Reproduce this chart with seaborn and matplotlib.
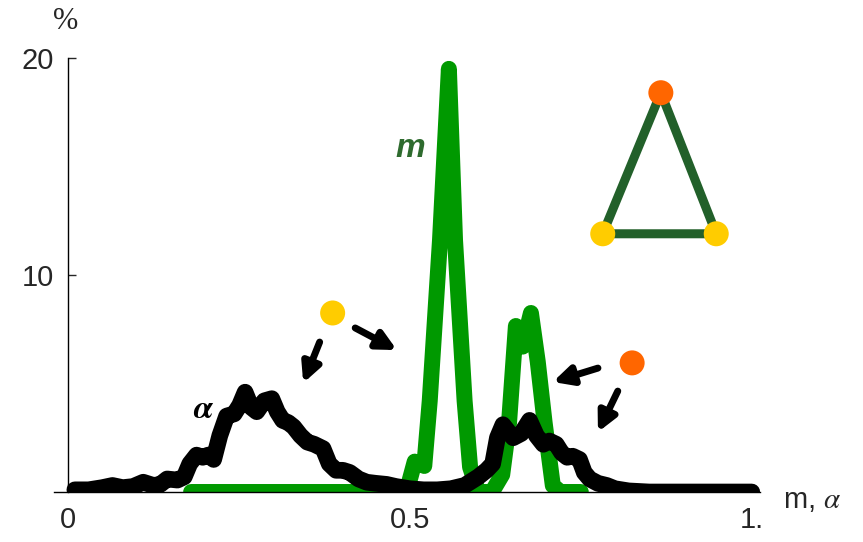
import numpy as np
import pandas as pd
import matplotlib
matplotlib.use("Agg")
import matplotlib.pyplot as plt
import seaborn as sns

# distribution of the magnetisation m (green)
m_x = [0.18, 0.30, 0.40, 0.495, 0.507, 0.515, 0.521, 0.529, 0.544, 0.557, 0.566,
       0.580, 0.588, 0.600, 0.620, 0.635, 0.645, 0.655, 0.665, 0.677, 0.687,
       0.697, 0.709, 0.720, 0.750]
m_y = [0.0, 0.0, 0.0, 0.0, 1.4, 1.3, 1.2, 4.2, 11.6, 19.5, 11.6,
       4.2, 1.15, 0.0, 0.0, 0.8, 3.2, 7.65, 6.7, 8.25, 6.0,
       3.2, 0.3, 0.0, 0.0]

# distribution of alpha (black)
a_x = [0.010, 0.030, 0.050, 0.065, 0.080, 0.095, 0.110, 0.125, 0.135, 0.145,
       0.160, 0.170, 0.178, 0.188, 0.197, 0.205, 0.213, 0.222, 0.232, 0.243,
       0.251, 0.259, 0.268, 0.276, 0.287, 0.298, 0.306, 0.314, 0.322, 0.330,
       0.340, 0.350, 0.360, 0.373, 0.382, 0.392, 0.402, 0.412, 0.425, 0.437,
       0.450, 0.466, 0.480, 0.500, 0.520, 0.540, 0.560, 0.580, 0.600, 0.612,
       0.621, 0.628, 0.636, 0.651, 0.663, 0.675, 0.685, 0.695, 0.704, 0.714,
       0.722, 0.730, 0.738, 0.748, 0.755, 0.763, 0.775, 0.788, 0.800, 0.820,
       0.850, 0.900, 0.950, 1.000]
a_y = [0.10, 0.10, 0.20, 0.30, 0.20, 0.25, 0.45, 0.30, 0.35, 0.60,
       0.55, 0.70, 1.30, 1.70, 1.60, 1.70, 1.50, 2.60, 3.50, 3.60,
       4.00, 4.60, 3.90, 3.70, 4.20, 4.30, 3.70, 3.30, 3.20, 3.00,
       2.60, 2.30, 2.20, 2.00, 1.30, 1.00, 1.00, 0.90, 0.60, 0.45,
       0.40, 0.35, 0.25, 0.15, 0.10, 0.10, 0.15, 0.30, 0.70, 1.00,
       1.30, 2.50, 3.10, 2.50, 2.70, 3.30, 2.60, 2.20, 2.35, 2.20,
       1.80, 1.60, 1.65, 1.50, 0.90, 0.60, 0.40, 0.30, 0.15, 0.05,
       0.00, 0.00, 0.00, 0.00]

x_ticks = [0, 0.5, 1.0]
x_tick_labels = ["0", "0.5", "1."]
y_ticks = [10, 20]
y_tick_labels = ["10", "20"]

# triangle inset: node positions (data units) and colours
tri_x = [0.867, 0.782, 0.948]
tri_y = [18.4, 11.9, 11.9]
tri_colors = ["#ff6600", "#ffcc00", "#ffcc00"]

# coloured markers with their arrows (start -> tip)
dot_x = [0.387, 0.825]
dot_y = [8.25, 5.95]
dot_colors = ["#ffcc00", "#ff6600"]
arrows = [((0.368, 6.91), (0.344, 5.02)),
          ((0.420, 7.56), (0.481, 6.54)),
          ((0.775, 5.71), (0.709, 5.07)),
          ((0.804, 4.65), (0.775, 2.76))]

sns.set_style("ticks")
plt.rcParams["font.family"] = ["Liberation Sans", "DejaVu Sans"]
plt.rcParams["mathtext.fontset"] = "stix"

fig = plt.figure(figsize=(8.63, 5.42), dpi=100)
ax = fig.add_axes([54 / 863, 50 / 542, 706 / 863, 434 / 542])

green = "#009900"
line_kw = dict(estimator=None, sort=False, solid_capstyle="round",
               solid_joinstyle="round", legend=False)
sns.lineplot(x=m_x, y=m_y, ax=ax, color=green, linewidth=11.5, **line_kw)
sns.lineplot(x=a_x, y=a_y, ax=ax, color="black", linewidth=12, **line_kw)

ax.set_xlim(-0.0205, 1.012)
ax.set_ylim(0, 20)

# axes drawn through the origin
ax.spines["top"].set_visible(False)
ax.spines["right"].set_visible(False)
ax.spines["left"].set_position(("data", 0))
ax.spines["left"].set_bounds(0, 20)
for s in ("left", "bottom"):
    ax.spines[s].set_linewidth(1.0)
    ax.spines[s].set_color("black")

ax.set_xticks(x_ticks)
ax.set_xticklabels(x_tick_labels)
ax.set_yticks(y_ticks)
ax.set_yticklabels(y_tick_labels)
ax.tick_params(axis="both", direction="in", length=6, width=1.0,
               labelsize=21)
ax.tick_params(axis="x", pad=10)
ax.tick_params(axis="y", pad=10)
ax.set_xlabel("")
ax.set_ylabel("")

# axis captions
ax.text(-0.004, 21.66, "%", family="Liberation Serif", fontsize=22,
        ha="center", va="center", clip_on=False)
ax.text(1.045, -0.35, r"m, $\alpha$", fontsize=21, ha="left", va="center",
        clip_on=False)

# curve names
ax.text(0.500, 15.85, "m", fontsize=24, style="italic", weight="bold",
        color="#2e6b2e", ha="center", va="center")
ax.text(0.198, 3.78, r"$\boldsymbol{\alpha}$", fontsize=24, color="black",
        ha="center", va="center")

# triangle inset
ax.plot(tri_x + tri_x[:1], tri_y + tri_y[:1], color="#22602a", lw=6.5,
        solid_joinstyle="round", zorder=4)
ax.scatter(tri_x, tri_y, s=18 ** 2, c=tri_colors, linewidths=0, zorder=5)

# markers with arrows
ax.scatter(dot_x, dot_y, s=18 ** 2, c=dot_colors, linewidths=0, zorder=5)
for (x0, y0), (x1, y1) in arrows:
    ax.annotate("", xy=(x1, y1), xytext=(x0, y0),
                arrowprops=dict(arrowstyle="-|>", color="black", lw=5,
                                mutation_scale=28, shrinkA=0, shrinkB=0),
                zorder=5)

fig.savefig("out.png", dpi=100)
